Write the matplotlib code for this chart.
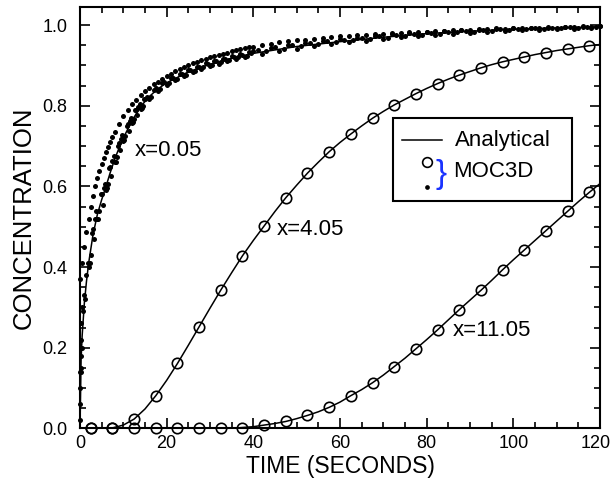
import matplotlib
matplotlib.use("Agg")
import matplotlib.pyplot as plt
from matplotlib.patches import Rectangle
from matplotlib.lines import Line2D
from matplotlib.ticker import MultipleLocator
from matplotlib.transforms import ScaledTranslation

# フォントの設定
plt.rcParams["font.family"] = ["Liberation Sans", "DejaVu Sans"]

# 解析解 (x=0.05)
t_ana_005 = [0, 0.25, 0.5, 1, 1.5, 2, 3, 4, 5, 6, 7, 8, 9, 10, 12, 14, 16, 18, 20,
             25, 30, 35, 40, 50, 60, 70, 80, 90, 100, 110, 120]
c_ana_005 = [0, 0.17, 0.23, 0.31, 0.365, 0.41, 0.48, 0.53, 0.567, 0.60, 0.635, 0.667, 0.695,
             0.72, 0.763, 0.798, 0.823, 0.842, 0.857, 0.884, 0.903, 0.918, 0.930, 0.947,
             0.959, 0.970, 0.979, 0.985, 0.990, 0.993, 0.996]

# 解析解 (x=4.05, x=11.05) の時間
t_ana = [0, 2.5, 5, 7.5, 10, 12.5, 15, 17.5, 20, 22.5, 25, 27.5, 30, 32.5, 35, 37.5, 40,
         42.5, 45, 47.5, 50, 52.5, 55, 57.5, 60, 62.5, 65, 67.5, 70, 72.5, 75, 77.5, 80,
         82.5, 85, 87.5, 90, 92.5, 95, 97.5, 100, 102.5, 105, 107.5, 110, 112.5, 115,
         117.5, 120]
c_ana_405 = [0, 0, 0, 0.001, 0.008, 0.023, 0.048, 0.081, 0.119, 0.161, 0.206, 0.252, 0.298,
             0.343, 0.386, 0.428, 0.466, 0.502, 0.538, 0.572, 0.603, 0.633, 0.660, 0.686,
             0.709, 0.730, 0.750, 0.769, 0.786, 0.802, 0.816, 0.830, 0.843, 0.855, 0.866,
             0.876, 0.885, 0.894, 0.902, 0.909, 0.915, 0.921, 0.927, 0.932, 0.937, 0.941,
             0.945, 0.949, 0.952]
c_ana_1105 = [0, 0, 0, 0, 0, 0, 0, 0, 0, 0, 0, 0, 0, 0, 0, 0.002, 0.004, 0.008, 0.012, 0.017,
              0.024, 0.032, 0.041, 0.052, 0.065, 0.081, 0.096, 0.113, 0.132, 0.153, 0.174,
              0.197, 0.220, 0.244, 0.269, 0.294, 0.318, 0.342, 0.367, 0.393, 0.418, 0.442,
              0.466, 0.490, 0.514, 0.538, 0.562, 0.585, 0.607]

# MOC3D (白丸)
t_moc = [2.5, 7.5, 12.5, 17.5, 22.5, 27.5, 32.5, 37.5, 42.5, 47.5, 52.5, 57.5, 62.5, 67.5,
         72.5, 77.5, 82.5, 87.5, 92.5, 97.5, 102.5, 107.5, 112.5, 117.5]
c_moc_405 = [0, 0.001, 0.023, 0.081, 0.161, 0.252, 0.343, 0.428, 0.502, 0.572, 0.633, 0.686,
             0.730, 0.769, 0.802, 0.830, 0.855, 0.876, 0.894, 0.909, 0.921, 0.932, 0.941, 0.949]
c_moc_1105 = [0, 0, 0, 0, 0, 0, 0, 0, 0.008, 0.017, 0.032, 0.052, 0.081, 0.113, 0.153, 0.197,
              0.244, 0.294, 0.342, 0.393, 0.442, 0.490, 0.538, 0.585]

# MOC3D (黒点, x=0.05)
t_dot_a = [0, 1, 2, 3, 4, 5, 6, 7, 8, 9, 10, 11, 12, 13, 14, 15, 16, 17, 18, 19, 20, 21, 22,
           23, 24, 25, 26, 27, 28, 29, 30, 31, 32, 33, 34, 35, 36, 37, 38, 39,
           40, 42, 44, 46, 48, 50, 52, 54, 56, 58, 60, 62, 64, 66, 68, 70, 72, 74, 76, 78,
           80, 82, 84, 86, 88, 90, 92, 94, 96, 98, 100, 102, 104, 106, 108, 110, 112, 114,
           116, 118, 120]
c_dot_upper = [0.37, 0.45, 0.52, 0.575, 0.62, 0.655, 0.685, 0.71, 0.735, 0.755,
               0.775, 0.79, 0.805, 0.815, 0.826, 0.836, 0.845, 0.853, 0.86, 0.867,
               0.874, 0.88, 0.886, 0.891, 0.896, 0.901, 0.905, 0.909, 0.913, 0.917,
               0.92, 0.923, 0.926, 0.929, 0.932, 0.935, 0.938, 0.94, 0.943, 0.945,
               0.947, 0.951, 0.954, 0.957, 0.96, 0.962, 0.964, 0.966, 0.968, 0.97,
               0.972, 0.973, 0.975, 0.976, 0.977, 0.979, 0.98, 0.981, 0.982, 0.983,
               0.984, 0.985, 0.986, 0.987, 0.988, 0.988, 0.989, 0.99, 0.99, 0.991,
               0.992, 0.992, 0.993, 0.993, 0.994, 0.994, 0.995, 0.995, 0.996, 0.996, 0.997]
t_dot_upper2 = [0.5, 1.5, 2.5, 3.5, 4.5, 5.5, 6.5, 7.5]
c_dot_upper2 = [0.41, 0.487, 0.55, 0.6, 0.638, 0.67, 0.698, 0.723]
c_dot_a = [0.14, 0.33, 0.40, 0.495, 0.52, 0.58, 0.592, 0.648, 0.66, 0.707,
           0.713, 0.754, 0.757, 0.79, 0.792, 0.818, 0.817, 0.84, 0.836, 0.856,
           0.852, 0.868, 0.864, 0.879, 0.874, 0.889, 0.883, 0.897, 0.891, 0.905,
           0.898, 0.911, 0.904, 0.917, 0.91, 0.923, 0.916, 0.929, 0.921, 0.933,
           0.936, 0.929, 0.944, 0.936, 0.95, 0.942, 0.956, 0.948, 0.961, 0.952,
           0.965, 0.957, 0.969, 0.961, 0.973, 0.966, 0.977, 0.97, 0.98, 0.973,
           0.983, 0.976, 0.986, 0.979, 0.988, 0.981, 0.99, 0.983, 0.992, 0.985,
           0.993, 0.987, 0.994, 0.989, 0.995, 0.99, 0.996, 0.991, 0.997, 0.992, 0.997]
t_dot_b = [0.5, 1.5, 2.5, 3.5, 4.5, 5.5, 6.5, 7.5, 8.5, 9.5, 10.5, 11.5, 12.5, 13.5, 14.5,
           15.5, 16.5, 17.5, 18.5, 19.5, 20.5, 21.5, 22.5, 23.5, 24.5, 25.5, 26.5, 27.5,
           28.5, 29.5, 30.5, 31.5, 32.5, 33.5, 34.5, 35.5, 36.5, 37.5, 38.5, 39.5,
           41, 43, 45, 47, 49, 51, 53, 55, 57, 59, 61, 63, 65, 67, 69, 71, 73, 75, 77, 79,
           81, 83, 85, 87, 89, 91, 93, 95, 97, 99, 101, 103, 105, 107, 109, 111, 113, 115,
           117, 119]
c_dot_b = [0.20, 0.38, 0.43, 0.52, 0.538, 0.597, 0.607, 0.662, 0.672, 0.718,
           0.724, 0.762, 0.766, 0.797, 0.799, 0.823, 0.822, 0.843, 0.842, 0.858,
           0.857, 0.869, 0.867, 0.88, 0.877, 0.889, 0.887, 0.897, 0.895, 0.904,
           0.902, 0.91, 0.908, 0.916, 0.914, 0.921, 0.92, 0.927, 0.924, 0.931,
           0.938, 0.935, 0.945, 0.942, 0.951, 0.948, 0.956, 0.953, 0.96, 0.958,
           0.964, 0.962, 0.968, 0.966, 0.972, 0.969, 0.975, 0.973, 0.978, 0.976,
           0.981, 0.979, 0.984, 0.982, 0.986, 0.984, 0.988, 0.986, 0.99, 0.988,
           0.991, 0.99, 0.992, 0.991, 0.994, 0.992, 0.995, 0.993, 0.996, 0.995]
t_dot_c = [0.25, 0.75, 1.25, 1.75, 2.25, 2.75, 3.25, 3.75, 4.25, 4.75, 5.25, 5.75, 6.25,
           6.75, 7.25, 7.75, 8.25, 8.75, 9.25, 9.75, 10.25, 10.75, 11.25, 11.75, 12.25,
           12.75, 13.25, 13.75, 14.25, 14.75]
c_dot_c = [0.15, 0.29, 0.32, 0.41, 0.41, 0.485, 0.47, 0.54, 0.52, 0.58, 0.555, 0.605,
           0.595, 0.645, 0.625, 0.675, 0.66, 0.70, 0.69, 0.728, 0.715, 0.75, 0.738, 0.77,
           0.76, 0.79, 0.778, 0.805, 0.794, 0.818]
# 立ち上がり直後の点
t_dot_early = [0.0, 0.05, 0.1, 0.15, 0.2, 0.25, 0.3, 0.35]
c_dot_early = [0.02, 0.06, 0.1, 0.14, 0.18, 0.22, 0.26, 0.30]

# グラフを描画
fig = plt.figure(figsize=(6.13, 4.86), dpi=100)
ax = fig.add_axes([0.1305, 0.1187, 0.8483, 0.8669])

ax.plot(t_ana_005, c_ana_005, color="black", lw=1.1)
ax.plot(t_ana, c_ana_405, color="black", lw=1.1)
ax.plot(t_ana, c_ana_1105, color="black", lw=1.1)

ax.plot(t_moc, c_moc_405, "o", ms=7.5, mfc="none", mec="black", mew=1.2, clip_on=False)
ax.plot(t_moc, c_moc_1105, "o", ms=7.5, mfc="none", mec="black", mew=1.2, clip_on=False)

dot_sets = [(t_dot_a, c_dot_upper), (t_dot_upper2, c_dot_upper2), (t_dot_a, c_dot_a),
            (t_dot_b, c_dot_b), (t_dot_c, c_dot_c), (t_dot_early, c_dot_early)]
for t, c in dot_sets:
    ax.plot(t, c, "o", ms=3.6, mfc="black", mec="none", clip_on=False)

# 曲線のラベル
ax.text(12.7, 0.688, "x=0.05", fontsize=16, va="center", ha="left")
ax.text(45.4, 0.493, "x=4.05", fontsize=16, va="center", ha="left")
ax.text(86.1, 0.243, "x=11.05", fontsize=16, va="center", ha="left")

# 凡例 (手書き)
ax.add_patch(Rectangle((0.602, 0.5395), 0.3436, 0.1977, transform=ax.transAxes,
                       facecolor="white", edgecolor="black", lw=1.5, zorder=5))
ax.add_line(Line2D([0.6187, 0.6956], [0.6843, 0.6843], transform=ax.transAxes,
                   color="black", lw=1.1, zorder=6))
ax.text(0.721, 0.6843, "Analytical", transform=ax.transAxes, fontsize=16,
        va="center", ha="left", zorder=6)
ax.plot([0.6667], [0.6328], "o", ms=7, mfc="none", mec="black", mew=1.2,
        transform=ax.transAxes, zorder=6)
ax.plot([0.6667], [0.5735], "o", ms=3.4, mfc="black", mec="none",
        transform=ax.transAxes, zorder=6)
ax.text(0.695, 0.603, "}", transform=ax.transAxes, fontsize=24, color="#1a33ff",
        va="center", ha="center", zorder=6)
ax.text(0.7173, 0.609, "MOC3D", transform=ax.transAxes, fontsize=16,
        va="center", ha="left", zorder=6)

# 軸の設定
ax.set_xlim(0, 120)
ax.set_ylim(0, 1.045)
ax.set_xticks([0, 20, 40, 60, 80, 100, 120])
ax.set_yticks([0.0, 0.2, 0.4, 0.6, 0.8, 1.0])
ax.set_yticklabels(["0.0", "0.2", "0.4", "0.6", "0.8", "1.0"])
ax.xaxis.set_minor_locator(MultipleLocator(5))
ax.yaxis.set_minor_locator(MultipleLocator(0.05))
ax.tick_params(which="both", direction="in", top=True, right=True, labelsize=13, width=1.2)
ax.tick_params(which="major", length=7)
ax.tick_params(which="minor", length=4.5)
ax.tick_params(axis="y", pad=9)
ax.tick_params(axis="x", pad=5)
for s in ax.spines.values():
    s.set_linewidth(1.5)

# 右端の「120」を少し左へ
last = ax.get_xticklabels()[-1]
last.set_transform(last.get_transform() + ScaledTranslation(-0.04, 0, fig.dpi_scale_trans))

ax.set_xlabel("TIME (SECONDS)", fontsize=16.5, labelpad=2)
ax.set_ylabel("CONCENTRATION", fontsize=18.5, labelpad=5)

fig.savefig("out.png", dpi=100)
